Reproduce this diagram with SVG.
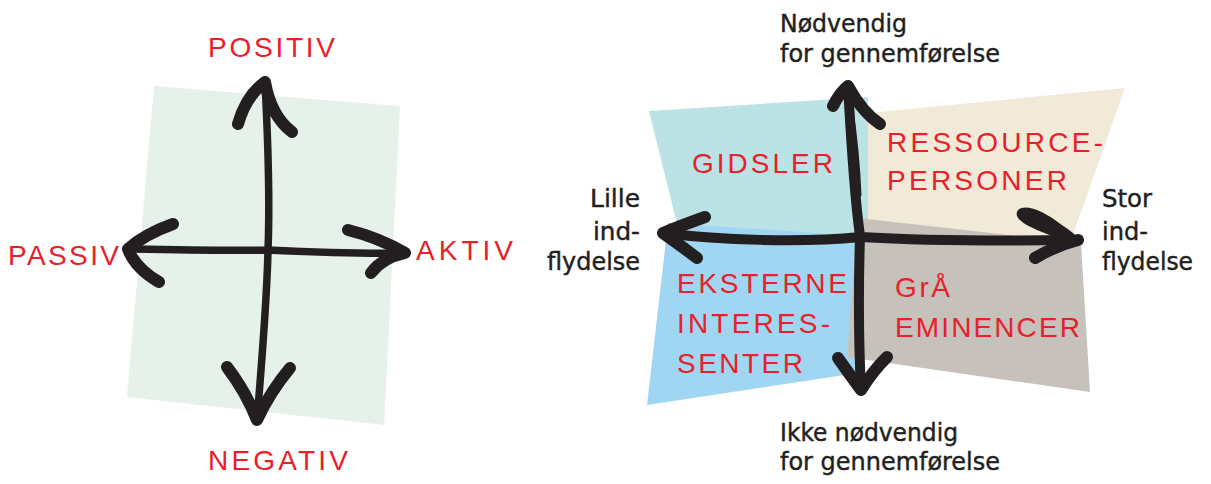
<svg xmlns="http://www.w3.org/2000/svg" width="1211" height="484" viewBox="0 0 1211 484">
  <style>
    .red { font-family: "Liberation Sans", "DejaVu Sans", sans-serif; font-size: 28px; fill: #e8202a; }
    .blk { font-family: "Liberation Sans Narrow", "DejaVu Sans Condensed", "Liberation Sans", sans-serif; font-size: 25px; fill: #231f20; stroke: #231f20; stroke-width: 0.4px; }
    .line { fill: none; stroke: #231f20; stroke-linecap: round; stroke-linejoin: round; }
    .thin { stroke-width: 7.5; }
    .mid { stroke-width: 10; }
    .barb { stroke-width: 12; }
  </style>
  <rect width="1211" height="484" fill="#ffffff"/>

  <!-- Left chart: background sheet -->
  <g id="sheet-left">
    <polygon points="154,86 400,106 384,425 127,397" fill="#e6f1e9"/>
  </g>

  <!-- Right chart: four stakeholder quadrants -->
  <g id="quadrant-gidsler">
    <polygon points="649,111 868,97 868,240 680,236" fill="#bbe3e6"/>
    <text class="red" x="692" y="173" textLength="141" lengthAdjust="spacing">GIDSLER</text>
  </g>
  <g id="quadrant-ressourcepersoner">
    <polygon points="868,113 1125,88 1071,240 868,228" fill="#f1ead8"/>
    <text class="red" x="887" y="152" textLength="216" lengthAdjust="spacing">RESSOURCE-</text>
    <text class="red" x="887" y="190" textLength="180" lengthAdjust="spacing">PERSONER</text>
  </g>
  <g id="quadrant-eksterne">
    <polygon points="668,223 860,236 858,373 647,405" fill="#a0d6f2"/>
    <text class="red" x="677" y="293" textLength="170" lengthAdjust="spacing">EKSTERNE</text>
    <text class="red" x="677" y="333" textLength="153" lengthAdjust="spacing">INTERES-</text>
    <text class="red" x="677" y="373" textLength="126" lengthAdjust="spacing">SENTER</text>
  </g>
  <g id="quadrant-graa">
    <polygon points="858,218 1081,243 1090,392 847,357" fill="#c7c1bb"/>
    <text class="red" x="895" y="297" textLength="55" lengthAdjust="spacing">GrÅ</text>
    <text class="red" x="895" y="337" textLength="185" lengthAdjust="spacing">EMINENCER</text>
  </g>

  <!-- Axes drawn as hand-sketched double arrows -->
  <g id="connectors">
    <!-- left chart, vertical axis -->
    <path class="line thin" d="M265,82 C268,140 270,200 268,250 C267,300 262,360 257,420"/>
    <path class="line barb" d="M238,124 Q246,96 265,82 Q271,116 292,132"/>
    <path class="line barb" d="M227,367 Q246,392 257,420 Q270,392 290,368"/>
    <!-- left chart, horizontal axis -->
    <path class="line thin" d="M127,249 C180,250 230,251 268,250 C310,252 360,254 405,253"/>
    <path class="line barb" d="M173,224 Q145,234 128,249 Q135,268 159,282"/>
    <path class="line barb" d="M348,230 Q380,238 405,253 Q382,258 371,273"/>

    <!-- right chart, vertical axis -->
    <path class="line mid" d="M848,86 C851,140 855,200 860,236 C858,300 859,350 861,390"/>
    <path class="line" stroke-width="3" d="M852,110 Q858,150 860,195"/>
    <path class="line barb" d="M833,106 Q840,92 848,86 Q862,112 880,124"/>
    <path class="line barb" d="M838,358 Q850,375 861,390 Q872,372 887,357"/>
    <!-- right chart, horizontal axis -->
    <path class="line mid" d="M663,233 C720,240 800,243 860,237 C930,241 1010,241 1078,240"/>
    <path class="line barb" d="M705,217 Q680,226 663,233 Q680,245 697,258"/>
    <path class="line barb" d="M1035,258 Q1055,246 1078,240"/>
    <path fill="#231f20" d="M1018,210 C1026,204 1040,210 1055,220 C1066,228 1076,234 1080,240 C1070,242 1056,238 1042,232 C1026,226 1012,218 1018,210 Z"/>
  </g>

  <!-- Left chart labels -->
  <g id="label-positiv"><text class="red" x="208" y="57" textLength="127" lengthAdjust="spacing">POSITIV</text></g>
  <g id="label-negativ"><text class="red" x="208" y="470" textLength="140" lengthAdjust="spacing">NEGATIV</text></g>
  <g id="label-passiv"><text class="red" x="8" y="265" textLength="111" lengthAdjust="spacing">PASSIV</text></g>
  <g id="label-aktiv"><text class="red" x="416" y="260" textLength="97" lengthAdjust="spacing">AKTIV</text></g>

  <!-- Right chart axis labels -->
  <g id="label-noedvendig">
    <text class="blk" x="780" y="32" textLength="127" lengthAdjust="spacingAndGlyphs">Nødvendig</text>
    <text class="blk" x="780" y="62" textLength="220" lengthAdjust="spacingAndGlyphs">for gennemførelse</text>
  </g>
  <g id="label-ikke-noedvendig">
    <text class="blk" x="780" y="441" textLength="178" lengthAdjust="spacingAndGlyphs">Ikke nødvendig</text>
    <text class="blk" x="780" y="470" textLength="220" lengthAdjust="spacingAndGlyphs">for gennemførelse</text>
  </g>
  <g id="label-lille">
    <text class="blk" x="590" y="207" textLength="50" lengthAdjust="spacingAndGlyphs">Lille</text>
    <text class="blk" x="593" y="240" textLength="47" lengthAdjust="spacingAndGlyphs">ind-</text>
    <text class="blk" x="547" y="270" textLength="93" lengthAdjust="spacingAndGlyphs">flydelse</text>
  </g>
  <g id="label-stor">
    <text class="blk" x="1102" y="207" textLength="50" lengthAdjust="spacingAndGlyphs">Stor</text>
    <text class="blk" x="1102" y="240" textLength="46" lengthAdjust="spacingAndGlyphs">ind-</text>
    <text class="blk" x="1102" y="270" textLength="91" lengthAdjust="spacingAndGlyphs">flydelse</text>
  </g>
</svg>
